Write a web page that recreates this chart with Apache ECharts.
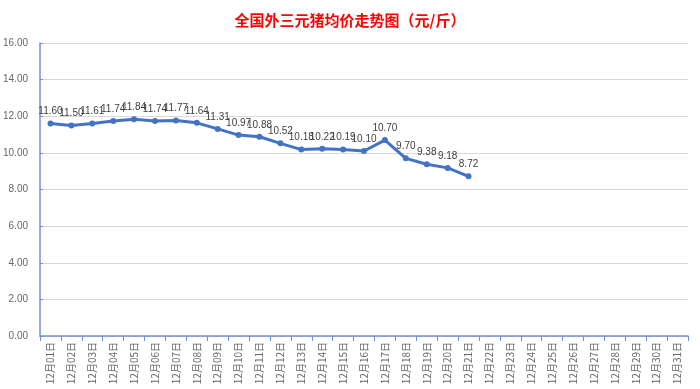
<!DOCTYPE html>
<html><head><meta charset="utf-8">
<script src="https://cdn.jsdelivr.net/npm/echarts@6/dist/echarts.min.js"></script>
<style>html,body{margin:0;padding:0;background:#fff}#c{width:700px;height:389px}</style>
</head><body><div id="c"></div>
<script>
const titleText = '全国外三元猪均价走势图（元/斤）';
const categories = [];
for (let d = 1; d <= 31; d++) categories.push('12月' + (d < 10 ? '0' + d : d) + '日');
const prices = [11.60, 11.50, 11.61, 11.74, 11.84, 11.74, 11.77, 11.64, 11.31, 10.97, 10.88, 10.52, 10.18, 10.22, 10.19, 10.10, 10.70, 9.70, 9.38, 9.18, 8.72];
const yTicks = { min: 0, max: 16, interval: 2 };

const chart = echarts.init(document.getElementById('c'));
chart.setOption({
  animation: false,
  title: { text: titleText, left: 'center', top: 8,
    textStyle: { color: '#ff0000', fontSize: 15, fontWeight: 'bold', fontFamily: 'Noto Sans CJK SC' } },
  grid: { left: 40, right: 12, top: 43, bottom: 53 },
  xAxis: { type: 'category', data: categories, boundaryGap: true,
    axisLine: { lineStyle: { color: '#6f8fd6', width: 1.5 } },
    axisTick: { show: true, alignWithLabel: false, lineStyle: { color: '#6f8fd6' } },
    axisLabel: { rotate: 90, interval: 0, color: '#666666', fontSize: 10, fontFamily: 'Noto Sans CJK SC', margin: 6 } },
  yAxis: { type: 'value', min: yTicks.min, max: yTicks.max, interval: yTicks.interval,
    axisLine: { show: true, lineStyle: { color: '#6f8fd6', width: 1.5 } },
    axisTick: { show: true, length: 3, inside: true, lineStyle: { color: '#6f8fd6' } },
    splitLine: { lineStyle: { color: '#d9d9d9' } },
    axisLabel: { color: '#666666', fontSize: 10, fontFamily: 'Liberation Sans', margin: 12,
      formatter: v => v.toFixed(2) } },
  series: [{ type: 'line', data: prices, symbol: 'circle', symbolSize: 6,
    lineStyle: { color: '#4472c4', width: 3 }, itemStyle: { color: '#4472c4' },
    label: { show: true, position: 'top', distance: 4, color: '#404040', fontSize: 10,
      fontFamily: 'Liberation Sans', formatter: p => p.value.toFixed(2) } }]
});
</script></body></html>
